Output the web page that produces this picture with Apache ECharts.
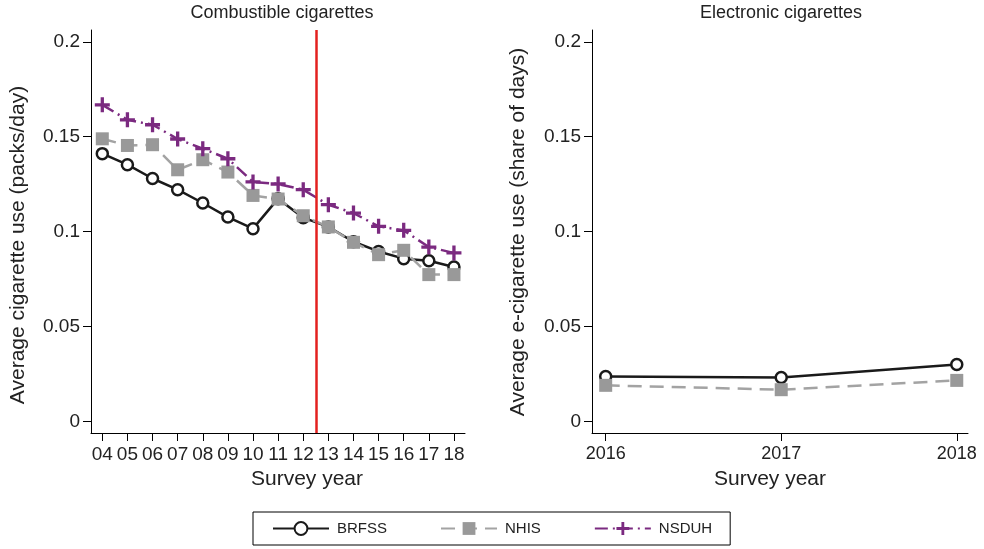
<!DOCTYPE html>
<html>
<head>
<meta charset="utf-8">
<script src="https://cdn.jsdelivr.net/npm/echarts@6/dist/echarts.min.js"></script>
<style>
html,body{margin:0;padding:0;background:#fff;}
#chart{width:984px;height:549px;}
</style>
</head>
<body>
<div id="chart"></div>
<script>
// ---- Data ----
const combYears = [4,5,6,7,8,9,10,11,12,13,14,15,16,17,18];
const combBRFSS = [0.1411,0.1353,0.1280,0.1221,0.1151,0.1077,0.1016,0.1174,0.1074,0.1025,0.0947,0.0896,0.0858,0.0847,0.0814];
const combNHIS  = [0.1489,0.1454,0.1458,0.1326,0.1379,0.1314,0.1191,0.1172,0.1084,0.1025,0.0944,0.0879,0.0902,0.0774,0.0774];
const combNSDUH = [0.1668,0.1589,0.1563,0.1488,0.1437,0.1384,0.1262,0.1251,0.1221,0.1142,0.1098,0.1028,0.1007,0.0919,0.0888];
const ecigYears = [2016,2017,2018];
const ecigBRFSS = [0.0237,0.0232,0.0301];
const ecigNHIS  = [0.0191,0.0168,0.0217];
const policyYear = 12.5;
const yTicks = [0,0.05,0.1,0.15,0.2];
const combTicks = combYears;
const ecigTicks = ecigYears;
const seriesNames = ['BRFSS','NHIS','NSDUH'];
const panelTitles = ['Combustible cigarettes','Electronic cigarettes'];
const yTitles = ['Average cigarette use (packs/day)','Average e-cigarette use (share of days)'];
const xTitle = 'Survey year';

const pairs = (xs, ys) => xs.map((x, i) => [x, ys[i]]);

const FONT = '"Liberation Sans", Arial, Helvetica, sans-serif';
const TXT = '#222';
const plusPath = 'path://M-1.1,-5 H1.1 V-1.1 H5 V1.1 H1.1 V5 H-1.1 V1.1 H-5 V-1.1 H-1.1 Z';

const styles = {
  BRFSS: {
    symbol: 'circle', symbolSize: 11,
    itemStyle: {color: '#fff', borderColor: '#1a1a1a', borderWidth: 2.5},
    lineStyle: {color: '#1a1a1a', width: 2.5, type: 'solid'}
  },
  NHIS: {
    symbol: 'rect', symbolSize: 13,
    itemStyle: {color: '#999999', borderWidth: 0},
    lineStyle: {color: '#a3a3a3', width: 2.5, type: [14, 8]}
  },
  NSDUH: {
    symbol: plusPath, symbolSize: 15,
    itemStyle: {color: '#7b2a80', borderWidth: 0},
    lineStyle: {color: '#7b2a80', width: 2.5, type: [13, 5, 2, 5]}
  }
};

function mkSeries(name, data, xi) {
  const s = styles[name];
  return Object.assign({
    name: name, type: 'line', data: data,
    xAxisIndex: xi, yAxisIndex: xi,
    showSymbol: true, silent: true, animation: false
  }, JSON.parse(JSON.stringify(s)), {symbol: s.symbol});
}

const yAxisCommon = {
  type: 'value', min: -0.006, max: 0.2062,
  axisLine: {show: true, onZero: false, lineStyle: {color: '#000', width: 1}},
  axisTick: {show: true, inside: false, length: 8, lineStyle: {color: '#000'}, customValues: yTicks},
  axisLabel: {customValues: yTicks, fontFamily: FONT, fontSize: 19, color: TXT, margin: 11,
    formatter: v => String(+Number(v).toFixed(2))},
  splitLine: {show: false}
};

const chart = echarts.init(document.getElementById('chart'), null, {renderer: 'canvas'});

const leftSeries = [
  mkSeries('BRFSS', pairs(combYears, combBRFSS), 0),
  mkSeries('NHIS', pairs(combYears, combNHIS), 0),
  mkSeries('NSDUH', pairs(combYears, combNSDUH), 0)
];
leftSeries[0].markLine = {
  silent: true, symbol: 'none', animation: false,
  label: {show: false},
  lineStyle: {color: '#e3211f', width: 2.5, type: 'solid'},
  data: [{xAxis: policyYear}]
};
leftSeries[0].z = 1;
leftSeries[1].z = 2;
leftSeries[2].z = 3;

const rightSeries = [
  mkSeries('BRFSS', pairs(ecigYears, ecigBRFSS), 1),
  mkSeries('NHIS', pairs(ecigYears, ecigNHIS), 1)
];

const option = {
  backgroundColor: '#fff',
  animation: false,
  textStyle: {fontFamily: FONT, color: TXT},
  grid: [
    {left: 91, right: 519, top: 30, bottom: 116, containLabel: false},
    {left: 592, right: 16, top: 30, bottom: 116, containLabel: false}
  ],
  xAxis: [
    {
      gridIndex: 0, type: 'value', min: 3.55, max: 18.44,
      axisLine: {show: true, onZero: false, lineStyle: {color: '#000', width: 1}},
      axisTick: {show: true, length: 8, lineStyle: {color: '#000'}, customValues: combTicks},
      axisLabel: {customValues: combTicks, fontFamily: FONT, fontSize: 19, color: TXT, margin: 12,
        formatter: v => String(Math.round(v)).padStart(2, '0')},
      splitLine: {show: false}
    },
    {
      gridIndex: 1, type: 'value', min: 2015.922, max: 2018.064,
      axisLine: {show: true, onZero: false, lineStyle: {color: '#000', width: 1}},
      axisTick: {show: true, length: 8, lineStyle: {color: '#000'}, customValues: ecigTicks},
      axisLabel: {customValues: ecigTicks, fontFamily: FONT, fontSize: 18, color: TXT, margin: 12,
        formatter: v => String(Math.round(v))},
      splitLine: {show: false}
    }
  ],
  yAxis: [
    Object.assign({gridIndex: 0}, yAxisCommon),
    Object.assign({gridIndex: 1}, yAxisCommon)
  ],
  legend: {
    data: seriesNames,
    left: 253, top: 512,
    orient: 'horizontal',
    itemWidth: 56, itemHeight: 16, itemGap: 53,
    padding: [9, 18, 9, 19],
    borderColor: '#000', borderWidth: 1,
    textStyle: {fontFamily: FONT, fontSize: 15, color: TXT, padding: [0, 0, 0, 3]},
    selectedMode: false
  },
  graphic: [
    {type: 'text', style: {text: panelTitles[0], x: 282, y: 13, textAlign: 'center', textVerticalAlign: 'middle', font: '18px ' + FONT, fill: TXT}},
    {type: 'text', style: {text: panelTitles[1], x: 781, y: 13, textAlign: 'center', textVerticalAlign: 'middle', font: '18px ' + FONT, fill: TXT}},
    {type: 'text', style: {text: xTitle, x: 307, y: 479, textAlign: 'center', textVerticalAlign: 'middle', font: '21px ' + FONT, fill: TXT}},
    {type: 'text', style: {text: xTitle, x: 770, y: 479, textAlign: 'center', textVerticalAlign: 'middle', font: '21px ' + FONT, fill: TXT}},
    {type: 'text', x: 18, y: 245, rotation: Math.PI / 2, style: {text: yTitles[0], x: 0, y: 0, textAlign: 'center', textVerticalAlign: 'middle', font: '21px ' + FONT, fill: TXT}},
    {type: 'text', x: 518, y: 232, rotation: Math.PI / 2, style: {text: yTitles[1], x: 0, y: 0, textAlign: 'center', textVerticalAlign: 'middle', font: '21px ' + FONT, fill: TXT}}
  ],
  series: leftSeries.concat(rightSeries)
};
chart.setOption(option);
</script>
</body>
</html>
